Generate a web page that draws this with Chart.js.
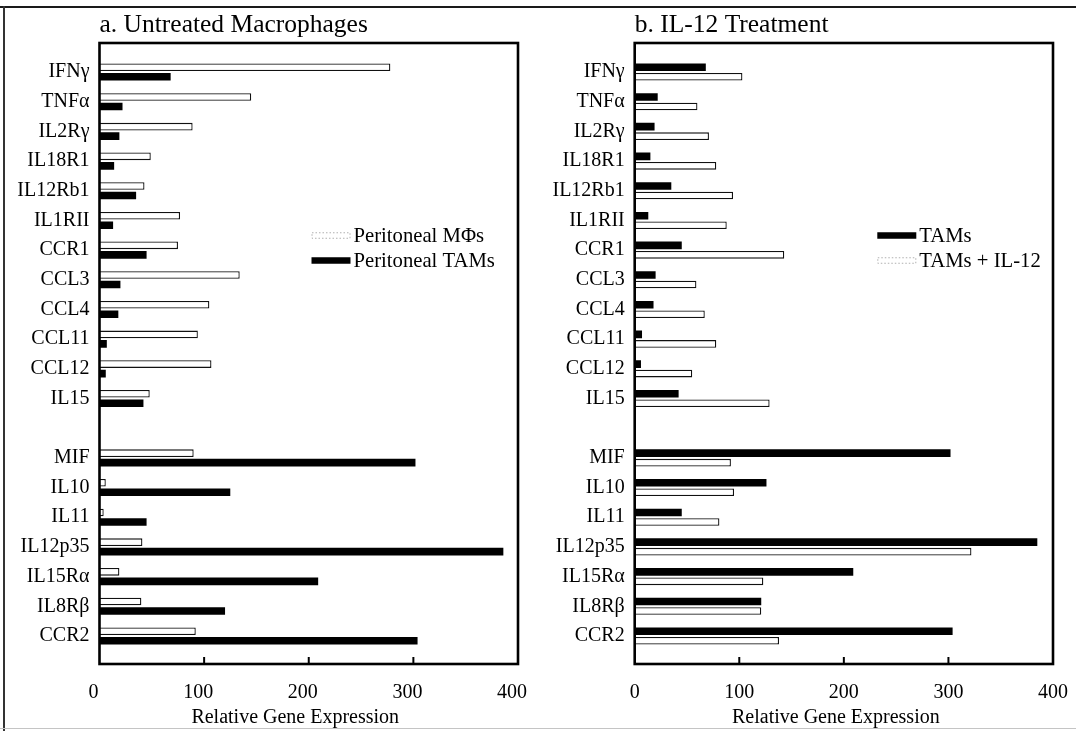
<!DOCTYPE html>
<html>
<head>
<meta charset="utf-8">
<script src="https://cdn.jsdelivr.net/npm/chart.js@4.4.1/dist/chart.umd.min.js"></script>
<style>
html, body { margin: 0; padding: 0; background: #fff; }
#wrap { position: relative; width: 1076px; height: 731px; overflow: hidden; background: #fff; }
.frame-top { position: absolute; left: 0; top: 6px; width: 1076px; height: 0; border-top: 2px solid #1a1a1a; }
.frame-left { position: absolute; left: 3px; top: 6px; width: 0; height: 725px; border-left: 2px solid #333; }
.frame-bottom { position: absolute; left: 0; top: 728px; width: 1076px; height: 0; border-top: 1px solid #c4c4c4; }
.panel { position: absolute; top: 0; width: 538px; height: 731px; }
canvas { display: block; }
</style>
</head>
<body>
<div id="wrap">
  <div class="frame-top"></div>
  <div class="frame-left"></div>
  <div class="frame-bottom"></div>
  <div class="panel" style="left:0"><canvas id="chartA" width="538" height="731" style="width:538px;height:731px"></canvas></div>
  <div class="panel" style="left:538px"><canvas id="chartB" width="538" height="731" style="width:538px;height:731px"></canvas></div>
</div>
<script>
// ---- data ----
const categories = ['IFNγ', 'TNFα', 'IL2Rγ', 'IL18R1', 'IL12Rb1', 'IL1RII', 'CCR1', 'CCL3', 'CCL4', 'CCL11', 'CCL12', 'IL15', '', 'MIF', 'IL10', 'IL11', 'IL12p35', 'IL15Rα', 'IL8Rβ', 'CCR2'];

// Panel a: untreated macrophages
const peritonealMacrophages = [278, 145, 89, 49, 43, 77, 75, 134, 105, 94, 107, 48, null, 90, 6, 4, 41, 19, 40, 92];
const peritonealTAMs       = [68, 22, 19, 14, 35, 13, 45, 20, 18, 7, 6, 42, null, 302, 125, 45, 386, 209, 120, 304];

// Panel b: IL-12 treatment
const tams          = [68, 22, 19, 15, 35, 13, 45, 20, 18, 7, 6, 42, null, 302, 126, 45, 385, 209, 121, 304];
const tamsPlusIL12  = [103, 60, 71, 78, 94, 88, 143, 59, 67, 78, 55, 129, null, 92, 95, 81, 322, 123, 121, 138];

const xTickValues = [0, 100, 200, 300, 400];
const panelTitles = ['a. Untreated Macrophages', 'b. IL-12 Treatment'];
const axisTitle = 'Relative Gene Expression';
const seriesLabelsA = ['Peritoneal MΦs', 'Peritoneal TAMs'];
const seriesLabelsB = ['TAMs', 'TAMs + IL-12'];

// ---- styling ----
const SERIF = '"Liberation Serif", "Times New Roman", Times, serif';
Chart.defaults.font.family = SERIF;
Chart.defaults.color = '#000';

const whiteBar = { backgroundColor: '#ffffff', borderColor: '#111111', borderWidth: 1.3, borderSkipped: 'start', legendStroke: '#b0b0b0' };
const blackBar = { backgroundColor: '#000000', borderColor: '#000000', borderWidth: 0, legendStroke: null };

// Plot frame, inward tick marks, legend and axis title
const panelDecor = {
  id: 'panelDecor',
  afterDatasetsDraw(chart, args, opts) {
    const ctx = chart.ctx;
    const a = chart.chartArea;
    const x = chart.scales.x;
    const top = a.top - opts.padTop;
    const bottom = a.bottom + opts.padBottom;
    ctx.save();
    // frame
    ctx.strokeStyle = '#000';
    ctx.lineWidth = 2.6;
    ctx.strokeRect(a.left, top, a.right - a.left, bottom - top);
    // inward tick marks
    ctx.lineWidth = 2;
    x.ticks.forEach(t => {
      if (t.value <= x.min || t.value >= x.max) return;
      const px = x.getPixelForValue(t.value);
      ctx.beginPath();
      ctx.moveTo(px, bottom);
      ctx.lineTo(px, bottom - 7);
      ctx.stroke();
    });
    // legend
    ctx.font = opts.legendFont + 'px ' + SERIF;
    ctx.textAlign = 'left';
    ctx.textBaseline = 'middle';
    chart.data.datasets.forEach((ds, i) => {
      const cy = opts.legendY + i * opts.legendGap;
      const sx = opts.legendX, sw = 39, sh = 6.5;
      ctx.fillStyle = ds.backgroundColor;
      ctx.fillRect(sx, cy - sh / 2, sw, sh);
      if (ds.legendStroke) {
        ctx.strokeStyle = ds.legendStroke;
        ctx.lineWidth = 1;
        ctx.setLineDash([1.5, 2]);
        ctx.strokeRect(sx + 0.5, cy - sh / 2 + 0.5, sw - 1, sh - 1);
        ctx.setLineDash([]);
      }
      ctx.fillStyle = '#000';
      ctx.fillText(ds.label, sx + sw + 3, cy + 1);
    });
    // axis title
    ctx.font = '20px ' + SERIF;
    ctx.textAlign = 'center';
    ctx.textBaseline = 'alphabetic';
    ctx.fillStyle = '#000';
    ctx.fillText(opts.axisTitle, (a.left + a.right) / 2 + opts.titleShift, opts.titleBaseline);
    ctx.restore();
  }
};

function makeChart(id, title, datasets, cfg) {
  return new Chart(document.getElementById(id), {
    type: 'bar',
    data: { labels: categories, datasets: datasets },
    options: {
      indexAxis: 'y',
      responsive: false,
      animation: false,
      events: [],
      categoryPercentage: 0.64,
      barPercentage: 0.8,
      layout: { padding: { left: 0, right: cfg.padRight, top: 0, bottom: 0 } },
      scales: {
        y: {
          type: 'category',
          offset: true,
          grid: { display: false, drawTicks: false },
          border: { display: false },
          ticks: { autoSkip: false, color: '#000', font: { size: 20, family: SERIF }, padding: 10 },
          afterFit(s) { s.width = cfg.axisLeft; s.paddingTop = 0; s.paddingBottom = 0; }
        },
        x: {
          type: 'linear',
          min: xTickValues[0],
          max: xTickValues[xTickValues.length - 1],
          grid: { display: false, drawTicks: false },
          border: { display: false },
          ticks: {
            stepSize: xTickValues[1] - xTickValues[0],
            color: '#000',
            font: { size: 20, family: SERIF },
            padding: 30,
            labelOffset: cfg.labelOffset,
            maxRotation: 0
          },
          afterFit(s) { s.height = 80.2; s.paddingLeft = 0; s.paddingRight = 0; }
        }
      },
      plugins: {
        legend: { display: false },
        tooltip: { enabled: false },
        title: {
          display: true,
          text: title,
          align: 'start',
          fullSize: false,
          color: '#000',
          font: { size: 25.5, family: SERIF, weight: 'normal', lineHeight: 1.2 },
          padding: { top: 9.5, bottom: 17.1 }
        },
        panelDecor: {
          padTop: 14.2,
          padBottom: 13.2,
          legendX: cfg.legendX,
          legendY: 235.5,
          legendGap: 25,
          legendFont: 20.7,
          axisTitle: axisTitle,
          titleShift: cfg.titleShift,
          titleBaseline: 723
        }
      }
    },
    plugins: [panelDecor]
  });
}

makeChart('chartA', panelTitles[0], [
  Object.assign({ label: seriesLabelsA[0], data: peritonealMacrophages }, whiteBar),
  Object.assign({ label: seriesLabelsA[1], data: peritonealTAMs }, blackBar)
], { axisLeft: 99.5, padRight: 20, labelOffset: -6, legendX: 311.5, titleShift: -13.5 });

makeChart('chartB', panelTitles[1], [
  Object.assign({ label: seriesLabelsB[0], data: tams }, blackBar),
  Object.assign({ label: seriesLabelsB[1], data: tamsPlusIL12 }, whiteBar)
], { axisLeft: 96.7, padRight: 23, labelOffset: 0, legendX: 339.3, titleShift: -8 });
</script>
</body>
</html>
